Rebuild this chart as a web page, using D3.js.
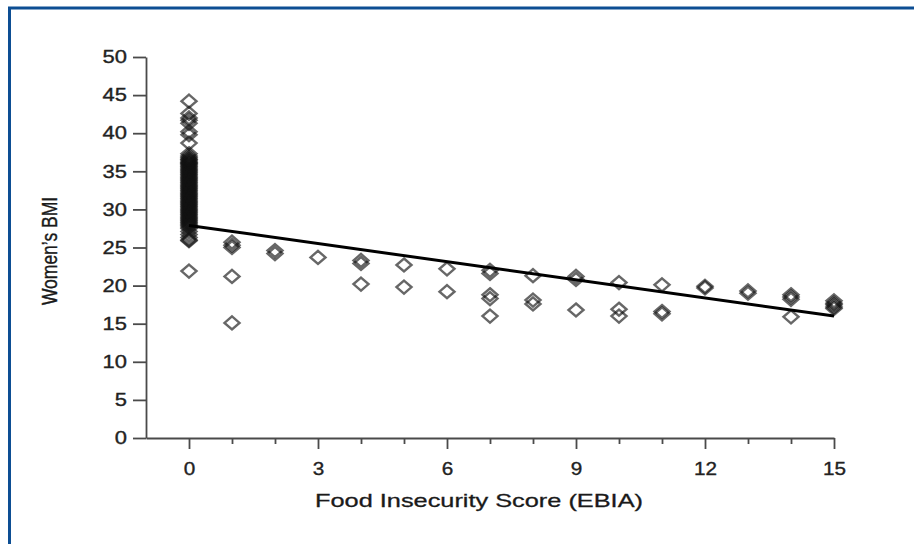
<!DOCTYPE html>
<html>
<head>
<meta charset="utf-8">
<script src="https://cdn.jsdelivr.net/npm/d3@7"></script>
<style>
  html, body { margin: 0; padding: 0; background: #fff; }
  svg { display: block; }
  text { font-family: "Liberation Sans", Arial, sans-serif; }
</style>
</head>
<body>
<div id="chart"></div>
<script>
// food insecurity score (EBIA) of each observation
const scoreX = [
  0, 0, 0, 0, 0, 0, 0, 0, 0, 0, 0, 0, 0, 0, 0, 0, 0, 0, 0, 0, 0, 0, 0, 0,
  0, 0, 0, 0, 0, 0, 0, 0, 0, 0, 0, 0, 0, 0, 0, 0, 0, 0, 0, 0, 0, 0, 0,
  0, 0, 0, 0, 0, 0, 0, 0, 0, 0, 0, 0, 0, 0, 0, 0, 0, 0, 0, 0, 0, 0, 0, 0, 0, 0, 0, 0, 0, 0, 0, 0,
  1, 1, 1, 1, 1,
  2, 2,
  3,
  4, 4, 4,
  5, 5,
  6, 6,
  7, 7, 7, 7, 7,
  8, 8, 8,
  9, 9, 9,
  10, 10, 10,
  11, 11, 11,
  12, 12,
  13, 13,
  14, 14, 14, 14,
  15, 15, 15, 15, 15
];
// women's BMI of each observation
const bmiY = [
  44.2, 42.6, 42.0, 41.7, 41.3, 40.2, 39.8, 38.7, 37.3, 36.8, 36.5, 36.2, 36.0, 35.7, 35.4, 35.1,
  34.8, 34.5, 34.2, 33.9, 33.6, 33.3, 33.0, 32.7, 32.4, 32.1, 31.8, 31.5, 31.2, 30.9, 30.6, 30.3,
  30.0, 29.7, 29.4, 29.1, 28.8, 28.5, 28.2, 27.9, 27.5, 27.1, 26.7, 26.3, 25.9, 26.0, 21.9,
  37.0, 36.6, 36.35, 36.1, 35.85, 35.55, 35.25, 34.95, 34.65, 34.35, 34.05, 33.75, 33.45, 33.15,
  32.85, 32.55, 32.25, 31.95, 31.65, 31.35, 31.05, 30.75, 30.45, 30.15, 29.85, 29.55, 29.25,
  28.95, 28.65, 28.35, 28.05, 27.7,
  25.7, 25.3, 25.0, 21.2, 15.1,
  24.6, 24.2,
  23.7,
  23.3, 22.9, 20.2,
  22.7, 19.8,
  22.2, 19.2,
  22.0, 21.6, 18.8, 18.3, 16.0,
  21.3, 18.1, 17.6,
  21.2, 20.8, 16.8,
  20.4, 16.9, 16.0,
  20.1, 16.6, 16.3,
  19.9, 19.7,
  19.3, 19.0,
  18.8, 18.5, 18.2, 15.9,
  18.0, 17.7, 17.5, 17.2, 17.0
];
// fitted line end points
const fitX = [0, 15];
const fitY = [27.9, 16.0];

const xTicks = d3.range(0, 16);
const xTickLabels = [0, 3, 6, 9, 12, 15];
const yTicks = [0, 5, 10, 15, 20, 25, 30, 35, 40, 45, 50];

const W = 914, H = 544;

const svg = d3.select('#chart').append('svg').attr('width', W).attr('height', H);

// blue frame (top + left only, the rest is cut off)
svg.append('path')
  .attr('d', 'M9.5,' + H + ' V8 H' + W)
  .attr('fill', 'none')
  .attr('stroke', '#0d4e93')
  .attr('stroke-width', 3);

const x = d3.scaleLinear().domain([-1, 15]).range([146, 834]);
const y = d3.scaleLinear().domain([0, 50]).range([438, 57]);

const axisColor = '#4a4a4a';
const labelColor = '#222';

// stretch text horizontally the way the source image is
function stretch(sel, k) {
  sel.each(function () {
    const len = this.getComputedTextLength();
    d3.select(this).attr('textLength', len * k).attr('lengthAdjust', 'spacingAndGlyphs');
  });
}

// y axis
const gy = svg.append('g')
  .attr('transform', 'translate(' + x(-1) + ',0)')
  .call(d3.axisLeft(y).tickValues(yTicks).tickSize(13).tickPadding(6).tickSizeOuter(0));
gy.select('.domain').attr('stroke', axisColor).attr('stroke-width', 1.8);
gy.selectAll('.tick line').attr('stroke', axisColor).attr('stroke-width', 1.8);
gy.selectAll('.tick text')
  .attr('fill', labelColor)
  .attr('stroke', labelColor).attr('stroke-width', 0.35)
  .style('font-size', '18px')
  .call(stretch, 1.22);

// x axis
const gx = svg.append('g')
  .attr('transform', 'translate(0,' + y(0) + ')')
  .call(d3.axisBottom(x).tickValues(xTicks).tickSize(11).tickPadding(13).tickSizeOuter(0)
    .tickFormat(d => xTickLabels.includes(d) ? d : ''));
gx.select('.domain').attr('stroke', axisColor).attr('stroke-width', 1.8);
gx.selectAll('.tick line')
  .attr('stroke', axisColor).attr('stroke-width', 1.8)
  .attr('y2', d => xTickLabels.includes(d) ? 11 : 6);
gx.selectAll('.tick text')
  .attr('fill', labelColor)
  .attr('stroke', labelColor).attr('stroke-width', 0.35)
  .style('font-size', '18px')
  .call(stretch, 1.15);

// axis titles
svg.append('text')
  .attr('x', 479)
  .attr('y', 507)
  .attr('text-anchor', 'middle')
  .attr('fill', '#1a1a1a')
  .attr('stroke', '#1a1a1a').attr('stroke-width', 0.3)
  .style('font-size', '19px')
  .attr('textLength', 328)
  .attr('lengthAdjust', 'spacingAndGlyphs')
  .text('Food Insecurity Score (EBIA)');

svg.append('text')
  .attr('transform', 'translate(57,251) scale(1.3,1) rotate(-90)')
  .attr('text-anchor', 'middle')
  .attr('fill', '#1a1a1a')
  .attr('stroke', '#1a1a1a').attr('stroke-width', 0.3)
  .style('font-size', '17.5px')
  .text('Women\u2019s BMI');

// points: open diamonds
const pts = scoreX.map((d, i) => ({ x: d, y: bmiY[i] }));
const hw = 7.5, hh = 6.5;
svg.append('g')
  .selectAll('path')
  .data(pts)
  .join('path')
  .attr('d', d => {
    const cx = x(d.x), cy = y(d.y);
    return 'M' + cx + ',' + (cy - hh) + 'L' + (cx + hw) + ',' + cy +
      'L' + cx + ',' + (cy + hh) + 'L' + (cx - hw) + ',' + cy + 'Z';
  })
  .attr('fill', 'none')
  .attr('stroke', '#111')
  .attr('stroke-opacity', 0.64)
  .attr('stroke-width', 2.4);

// fitted line
const line = d3.line()
  .x(d => x(d[0]))
  .y(d => y(d[1]));

svg.append('path')
  .datum(fitX.map((d, i) => [d, fitY[i]]))
  .attr('fill', 'none')
  .attr('stroke', '#000')
  .attr('stroke-width', 3)
  .attr('d', line);
</script>
</body>
</html>
